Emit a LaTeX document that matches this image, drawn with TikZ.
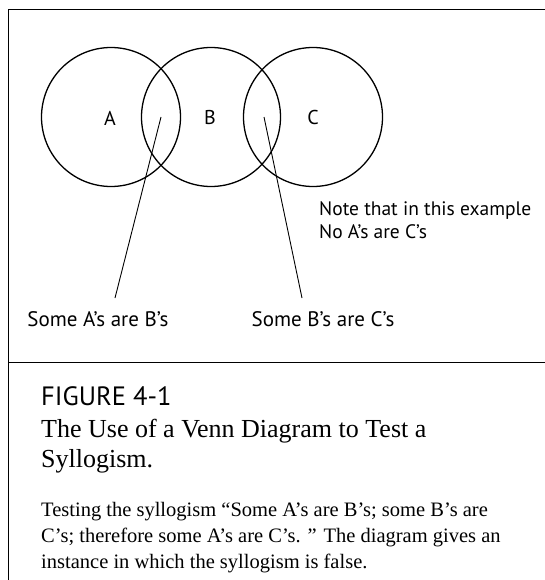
\documentclass[tikz,border=0pt]{standalone}
\usepackage{fontspec}
\setmainfont{Liberation Serif}
\newfontfamily\labelfont{PT Sans}
\begin{document}
\begin{tikzpicture}[x=1pt,y=-1pt,
  venn/.style={draw, circle, minimum size=139pt, inner sep=0pt, line width=1.3pt},
  circlbl/.style={font=\labelfont\fontsize{20}{22}\selectfont, inner sep=0pt},
  lbl/.style={font=\labelfont\fontsize{21}{24}\selectfont, inner sep=0pt},
  notelbl/.style={font=\labelfont\fontsize{19.5}{23}\selectfont, inner sep=0pt, align=left},
  pointer/.style={line width=0.9pt},
  frame/.style={line width=1pt},
  figlbl/.style={font=\labelfont\fontsize{26.5}{28}\selectfont, inner sep=0pt},
  title/.style={font=\fontsize{26}{30}\selectfont, inner sep=0pt, align=left},
  body/.style={font=\fontsize{20.5}{26}\selectfont, inner sep=0pt, align=left}]
\useasboundingbox (0,0) rectangle (545,580);
\fill[white] (0,0) rectangle (545,580);
% frame
\draw[frame] (545,10) -- (8,10) -- (8,580);
\draw[frame] (8,362) -- (545,362);
% circles
\node[venn] (cA) at (111,117) {};
\node[venn] (cB) at (211,117) {};
\node[venn] (cC) at (313,117) {};
\node[circlbl] (lA) at (110,118) {A};
\node[circlbl] (lB) at (210,118) {B};
\node[circlbl] (lC) at (313,118) {C};
% pointers
\coordinate (pAB) at (161,117);
\coordinate (pBC) at (264,117);
\node[lbl, anchor=base] (sAB) at (98,326) {Some A’s are B’s};
\node[lbl, anchor=base] (sBC) at (323,326) {Some B’s are C’s};
\coordinate (eAB) at (115,298);
\coordinate (eBC) at (302,298);
\draw[pointer] (pAB) -- (eAB);
\draw[pointer] (pBC) -- (eBC);
% note
\node[notelbl, anchor=base west] (note) at (319,238) {Note that in this example\\No A’s are C’s};
% caption
\node[figlbl, anchor=base west] (fig) at (41,405) {FIGURE 4-1};
\node[title, anchor=base west] (ttl) at (41,467) {The Use of a Venn Diagram to Test a\\Syllogism.};
\node[body, anchor=base west] (bdy) at (41,568) {Testing the syllogism “Some A’s are B’s; some B’s are\\C’s; therefore some A’s are C’s. ” The diagram gives an\\instance in which the syllogism is false.};
\end{tikzpicture}
\end{document}
